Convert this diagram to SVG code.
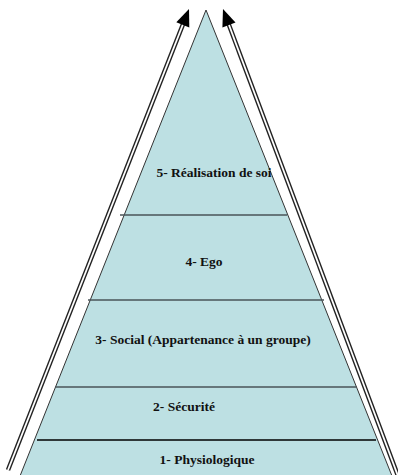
<svg xmlns="http://www.w3.org/2000/svg" width="398" height="475" viewBox="0 0 398 475">
<style>
.lbl{font-family:"Liberation Serif","Times New Roman",serif;font-weight:bold;font-size:13.5px;fill:#111;text-anchor:middle}
.sep{stroke:#4a5558;stroke-width:1.3}
.sep2{stroke:#000;stroke-width:1.5}
.shaftO{stroke:#222;stroke-width:4.6;fill:none}
.shaftI{stroke:#fff;stroke-width:1.8;fill:none}
.head{fill:#000}
</style>
<rect width="398" height="475" fill="#fff"/>
<g id="pyramid">
<polygon points="206,10 20,476 392,476" fill="#bde0e3" stroke="#333" stroke-width="1"/>
</g>
<g id="level5"><text class="lbl" x="214" y="177">5- Réalisation de soi</text></g>
<line class="sep" x1="120" y1="215" x2="287" y2="215"/>
<g id="level4"><text class="lbl" x="204" y="266">4- Ego</text></g>
<line class="sep" x1="88" y1="300" x2="324" y2="300"/>
<g id="level3"><text class="lbl" x="203" y="344">3- Social (Appartenance à un groupe)</text></g>
<line class="sep" x1="55" y1="387" x2="357" y2="387"/>
<g id="level2"><text class="lbl" x="184" y="411">2- Sécurité</text></g>
<line class="sep2" x1="37" y1="440" x2="376" y2="440"/>
<g id="level1"><text class="lbl" x="207" y="464">1- Physiologique</text></g>
<g id="connectors">
<line class="shaftO" x1="8" y1="470" x2="183.5" y2="23"/>
<line class="shaftI" x1="8" y1="470" x2="183.5" y2="23"/>
<polygon class="head" points="189,9 189.3,27.4 176.3,22.2"/>
<line class="shaftO" x1="228.6" y1="24" x2="398" y2="476"/>
<line class="shaftI" x1="228.6" y1="24" x2="398" y2="476"/>
<polygon class="head" points="223,9 235.5,22.4 222.4,27.4"/>
</g>
</svg>
